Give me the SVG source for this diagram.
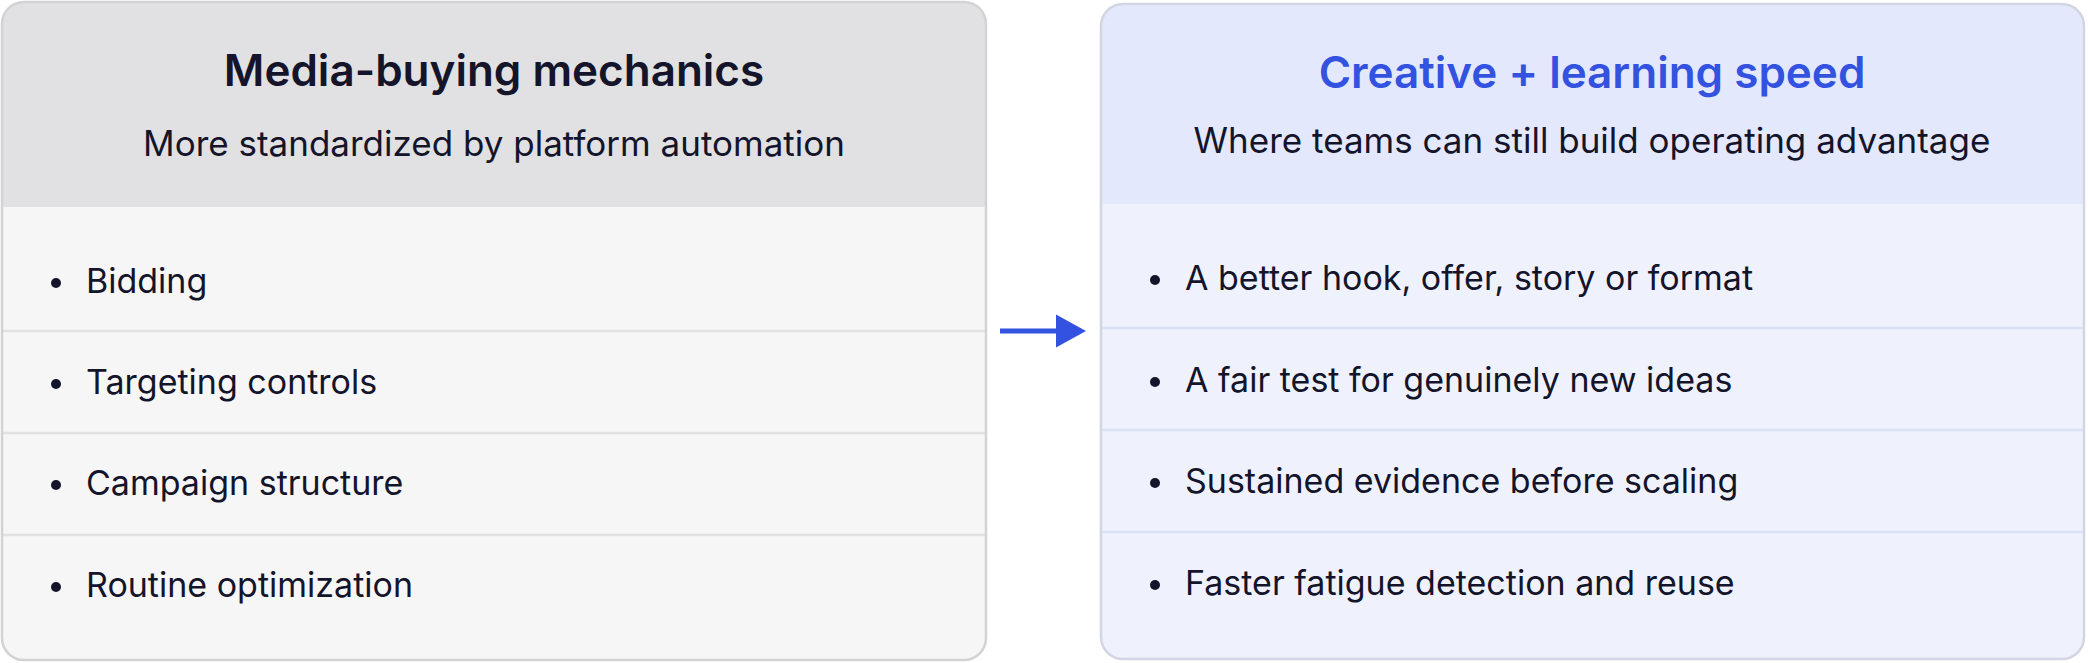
<svg xmlns="http://www.w3.org/2000/svg" width="2088" height="663" viewBox="0 0 2088 663">
<style>
text{font-family:Inter,"Noto Sans",sans-serif;fill:#14142a}
.t{font-size:44px;font-weight:600;text-anchor:middle}
.s{font-size:35px;text-anchor:middle}
.b{font-size:34px}
.dl{stroke:#e2e2e4;stroke-width:2.5}
.dr{stroke:#dce1f3;stroke-width:2.5}
</style>
<defs>
<clipPath id="cl"><rect x="2" y="2" width="984" height="658" rx="22"/></clipPath>
<clipPath id="cr"><rect x="1101" y="4" width="983" height="655" rx="22"/></clipPath>
<marker id="ah" markerWidth="6" markerHeight="8" refX="0" refY="4" orient="auto" markerUnits="userSpaceOnUse" viewBox="0 0 6 8"><path d="M0,0L6,4L0,8z" fill="#3352e0"/></marker>
</defs>
<g id="left">
<g clip-path="url(#cl)">
<rect x="2" y="2" width="984" height="658" fill="#f6f6f6"/>
<rect x="2" y="2" width="984" height="205" fill="#e1e1e3"/>
<line class="dl" x1="2" y1="331" x2="986" y2="331"/>
<line class="dl" x1="2" y1="433" x2="986" y2="433"/>
<line class="dl" x1="2" y1="535" x2="986" y2="535"/>
</g>
<rect x="2" y="2" width="984" height="658" rx="22" fill="none" stroke="#d3d3d5" stroke-width="2.5"/>
<text class="t" x="494" y="86">Media-buying mechanics</text>
<text class="s" x="494" y="156">More standardized by platform automation</text>
<g class="b">
<circle cx="56" cy="283" r="5" fill="#14142a"/><text class="b" x="86" y="293">Bidding</text>
<circle cx="56" cy="384" r="5" fill="#14142a"/><text class="b" x="86" y="394">Targeting controls</text>
<circle cx="56" cy="485" r="5" fill="#14142a"/><text class="b" x="86" y="495">Campaign structure</text>
<circle cx="56" cy="587" r="5" fill="#14142a"/><text class="b" x="86" y="597">Routine optimization</text>
</g>
</g>
<g id="right">
<g clip-path="url(#cr)">
<rect x="1101" y="4" width="983" height="655" fill="#eff2fd"/>
<rect x="1101" y="4" width="983" height="200" fill="#e3e8fc"/>
<line class="dr" x1="1101" y1="328" x2="2084" y2="328"/>
<line class="dr" x1="1101" y1="430" x2="2084" y2="430"/>
<line class="dr" x1="1101" y1="532" x2="2084" y2="532"/>
</g>
<rect x="1101" y="4" width="983" height="655" rx="22" fill="none" stroke="#d3d6e2" stroke-width="2.5"/>
<text class="t" x="1592" y="88" style="fill:#3352e0">Creative + learning speed</text>
<text class="s" x="1592" y="153">Where teams can still build operating advantage</text>
<circle cx="1155" cy="280" r="5" fill="#14142a"/><text class="b" x="1185" y="290">A better hook, offer, story or format</text>
<circle cx="1155" cy="382" r="5" fill="#14142a"/><text class="b" x="1185" y="392">A fair test for genuinely new ideas</text>
<circle cx="1155" cy="483" r="5" fill="#14142a"/><text class="b" x="1185" y="493">Sustained evidence before scaling</text>
<circle cx="1155" cy="585" r="5" fill="#14142a"/><text class="b" x="1185" y="595">Faster fatigue detection and reuse</text>
</g>
<g id="connectors">
<line x1="1000" y1="331" x2="1058" y2="331" stroke="#3352e0" stroke-width="5" marker-end="url(#ah)" style="marker-end:none"/>
<path d="M1056,314.5L1086,331L1056,347.5z" fill="#3352e0"/>
</g>
</svg>
